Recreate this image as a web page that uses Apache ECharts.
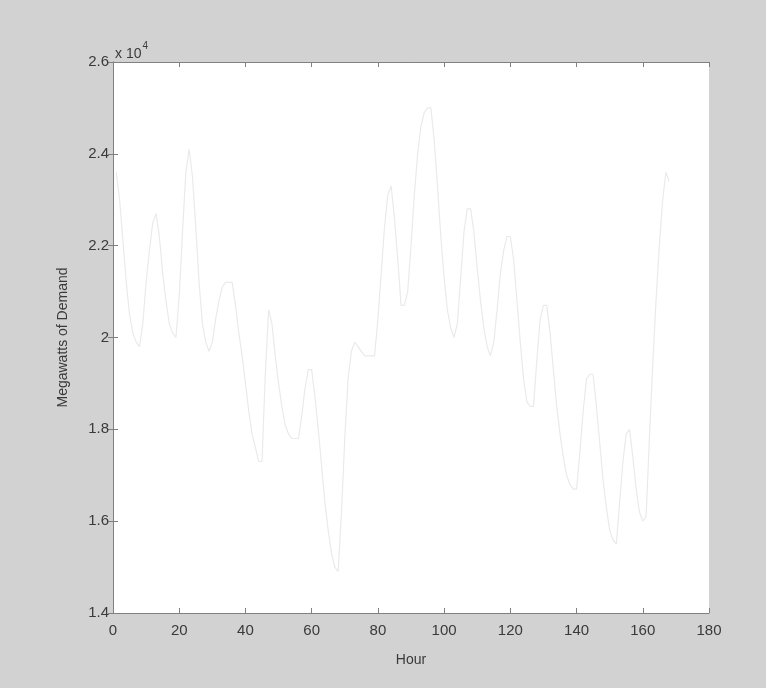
<!DOCTYPE html>
<html>
<head>
<meta charset="utf-8">
<script src="https://cdn.jsdelivr.net/npm/echarts@6/dist/echarts.min.js"></script>
<style>
    html, body { margin: 0; padding: 0; background: #d2d2d2; }
    #main { width: 766px; height: 688px; }
</style>
</head>
<body>
<div id="main"></div>
<script>
// hourly demand (MW), hours 1..168
var hours = [];
for (var i = 1; i <= 168; i++) { hours.push(i); }
var demand = [
    23600, 23000, 22100, 21200, 20500, 20100, 19900, 19800, 20300, 21200,
    21900, 22500, 22700, 22200, 21400, 20800, 20300, 20100, 20000, 20900,
    22300, 23600, 24100, 23500, 22400, 21200, 20300, 19900, 19700, 19900,
    20400, 20800, 21100, 21200, 21200, 21200, 20700, 20100, 19600, 19000,
    18400, 17900, 17600, 17300, 17300, 19200, 20600, 20300, 19600, 19000,
    18500, 18100, 17900, 17800, 17800, 17800, 18300, 18900, 19300, 19300,
    18700, 18000, 17200, 16400, 15800, 15300, 15000, 14900, 16200, 17800,
    19100, 19700, 19900, 19800, 19700, 19600, 19600, 19600, 19600, 20400,
    21400, 22400, 23100, 23300, 22600, 21700, 20700, 20700, 21000, 22000,
    23100, 24000, 24600, 24900, 25000, 25000, 24300, 23300, 22200, 21300,
    20600, 20200, 20000, 20300, 21300, 22300, 22800, 22800, 22300, 21500,
    20800, 20200, 19800, 19600, 19900, 20600, 21400, 21900, 22200, 22200,
    21700, 20800, 19900, 19100, 18600, 18500, 18500, 19500, 20400, 20700,
    20700, 20100, 19300, 18500, 17900, 17400, 17000, 16800, 16700, 16700,
    17500, 18400, 19100, 19200, 19200, 18500, 17700, 16900, 16300, 15800,
    15600, 15500, 16400, 17300, 17900, 18000, 17400, 16700, 16200, 16000,
    16100, 17800, 19400, 20800, 22000, 23000, 23600, 23400
];
var xTicks = [0, 20, 40, 60, 80, 100, 120, 140, 160, 180];
var yTicks = [14000, 16000, 18000, 20000, 22000, 24000, 26000];

var points = [];
for (var k = 0; k < hours.length; k++) {
    points.push([hours[k], demand[k]]);
}

var fontFam = '"Liberation Sans", Arial, sans-serif';
var txtColor = '#3a3a3a';
var frameColor = '#808080';

function frameAxis(extra) {
    var base = {
        axisLine: { show: true, lineStyle: { color: frameColor, width: 1 } },
        axisTick: { show: true, inside: true, length: 5, lineStyle: { color: frameColor } },
        splitLine: { show: false },
        axisLabel: { show: false }
    };
    for (var key in extra) { base[key] = extra[key]; }
    return base;
}

var chart = echarts.init(document.getElementById('main'));
var option = {
    backgroundColor: '#d2d2d2',
    animation: false,
    title: {
        text: '{a|x 10}{b|4}',
        left: 110,
        top: 36,
        textStyle: {
            fontWeight: 'normal',
            rich: {
                a: { fontFamily: fontFam, fontSize: 14, fontWeight: 'normal', color: txtColor, verticalAlign: 'bottom' },
                b: { fontFamily: fontFam, fontSize: 10, fontWeight: 'normal', color: txtColor, verticalAlign: 'top', padding: [0, 0, 10, 1] }
            }
        }
    },
    grid: {
        left: 113, right: 57, top: 62, bottom: 75,
        show: true, backgroundColor: '#ffffff', borderWidth: 0
    },
    xAxis: [
        frameAxis({
            type: 'value', position: 'bottom', min: xTicks[0], max: xTicks[xTicks.length - 1], interval: 20,
            name: 'Hour', nameLocation: 'middle', nameGap: 40,
            nameTextStyle: { fontFamily: fontFam, fontSize: 14, color: txtColor },
            axisLabel: { show: true, margin: 10, fontFamily: fontFam, fontSize: 15, color: txtColor }
        }),
        frameAxis({ type: 'value', position: 'top', min: 0, max: 180, interval: 20 })
    ],
    yAxis: [
        frameAxis({
            type: 'value', position: 'left', min: yTicks[0], max: yTicks[yTicks.length - 1], interval: 2000,
            name: 'Megawatts of Demand', nameLocation: 'middle', nameGap: 43,
            nameTextStyle: { fontFamily: fontFam, fontSize: 14, color: txtColor },
            axisLabel: {
                show: true, margin: 4, fontFamily: fontFam, fontSize: 15, color: txtColor,
                formatter: function (v) { return String(v / 10000); }
            }
        }),
        frameAxis({ type: 'value', position: 'right', min: 14000, max: 26000, interval: 2000 })
    ],
    series: [
        {
            name: 'Demand',
            type: 'line',
            data: points,
            showSymbol: false,
            lineStyle: { color: '#eaeaea', width: 1.2 }
        }
    ]
};
chart.setOption(option);
</script>
</body>
</html>
